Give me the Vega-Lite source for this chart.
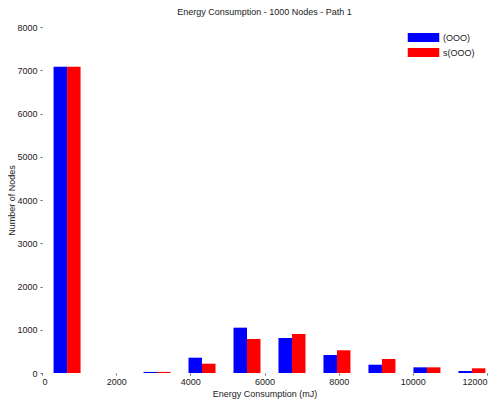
{
  "$schema": "https://vega.github.io/schema/vega-lite/v6.json",
  "width": 445,
  "height": 346,
  "autosize": "none",
  "padding": {"left": 42, "top": 27, "right": 11, "bottom": 31},
  "background": "white",
  "config": {
    "view": {"stroke": null},
    "font": "Liberation Sans",
    "axis": {"grid": false, "domain": false, "labelFont": "Liberation Sans", "labelFontSize": 9, "labelColor": "#222", "titleFont": "Liberation Sans", "titleFontSize": 9, "titleFontWeight": "normal", "titleColor": "#222", "tickColor": "#666", "tickSize": 2}
  },
  "title": {"text": "Energy Consumption - 1000 Nodes - Path 1", "fontSize": 9, "fontWeight": "normal", "font": "Liberation Sans", "color": "#222", "offset": 6},
  "data": {"values": [
    {"energy": 676, "series": "(OOO)", "count": 7080},
    {"energy": 676, "series": "s(OOO)", "count": 7080},
    {"energy": 1889, "series": "(OOO)", "count": 0},
    {"energy": 1889, "series": "s(OOO)", "count": 0},
    {"energy": 3102, "series": "(OOO)", "count": 25},
    {"energy": 3102, "series": "s(OOO)", "count": 25},
    {"energy": 4315, "series": "(OOO)", "count": 354},
    {"energy": 4315, "series": "s(OOO)", "count": 215},
    {"energy": 5528, "series": "(OOO)", "count": 1048},
    {"energy": 5528, "series": "s(OOO)", "count": 786},
    {"energy": 6741, "series": "(OOO)", "count": 809},
    {"energy": 6741, "series": "s(OOO)", "count": 902},
    {"energy": 7954, "series": "(OOO)", "count": 416},
    {"energy": 7954, "series": "s(OOO)", "count": 525},
    {"energy": 9167, "series": "(OOO)", "count": 192},
    {"energy": 9167, "series": "s(OOO)", "count": 324},
    {"energy": 10380, "series": "(OOO)", "count": 131},
    {"energy": 10380, "series": "s(OOO)", "count": 131},
    {"energy": 11593, "series": "(OOO)", "count": 46},
    {"energy": 11593, "series": "s(OOO)", "count": 108}
  ]},
  "encoding": {
    "x": {"field": "energy", "type": "quantitative", "scale": {"domain": [0, 12000], "nice": false, "zero": false, "padding": 0}, "axis": {"values": [0, 2000, 4000, 6000, 8000, 10000, 12000], "format": "d", "title": "Energy Consumption (mJ)", "labelPadding": 2, "titlePadding": 3}},
    "y": {"field": "count", "type": "quantitative", "scale": {"domain": [0, 8000], "nice": false}, "axis": {"values": [0, 1000, 2000, 3000, 4000, 5000, 6000, 7000, 8000], "format": "d", "title": "Number of Nodes", "labelPadding": 3, "titlePadding": 0}},
    "color": {"field": "series", "type": "nominal", "scale": {"domain": ["(OOO)", "s(OOO)"], "range": ["#0000ff", "#ff0000"]},
      "legend": {"title": null, "orient": "none", "legendX": 377, "legendY": 6, "symbolType": "M-3.5,-1H3.5V1H-3.5Z", "symbolSize": 81, "symbolStrokeWidth": 0, "labelFontSize": 9, "labelFont": "Liberation Sans", "labelColor": "#222", "rowPadding": 5, "labelOffset": 15, "symbolOpacity": 1, "padding": 0}}
  },
  "layer": [
    {"transform": [{"filter": "datum.series === '(OOO)'"}], "mark": {"type": "bar", "width": 13.5, "xOffset": -6.75, "opacity": 1}},
    {"transform": [{"filter": "datum.series === 's(OOO)'"}], "mark": {"type": "bar", "width": 13.5, "xOffset": 6.75, "opacity": 1}}
  ]
}
